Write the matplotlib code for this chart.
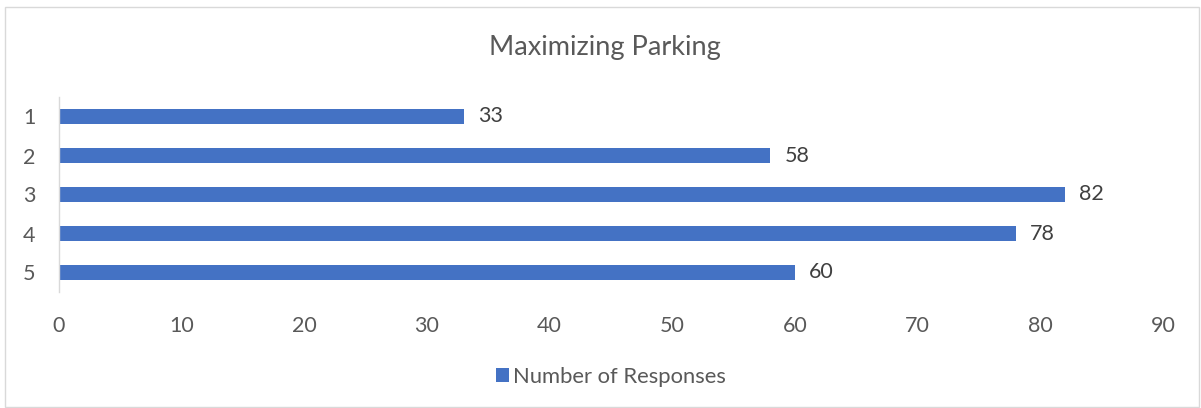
import matplotlib
matplotlib.use("Agg")
import matplotlib.pyplot as plt
from matplotlib.patches import Rectangle

categories = ["1", "2", "3", "4", "5"]
values = [33, 58, 82, 78, 60]
xticks = [0, 10, 20, 30, 40, 50, 60, 70, 80, 90]
title = "Maximizing Parking"
series_name = "Number of Responses"

plt.rcParams['font.family'] = ['Lato', 'DejaVu Sans']
bar_color = "#4472C4"
text_color = "#595959"

fig = plt.figure(figsize=(12.01, 4.08), dpi=100)
ax = fig.add_axes([59/1201, 1-292/408, (1163-59)/1201, (292-97)/408])

ypos = list(range(len(categories)))
bars = ax.barh(ypos, values, height=0.36, color=bar_color, label=series_name)
ax.set_ylim(len(categories)-0.5, -0.5)
ax.set_xlim(0, 90)
ax.set_yticks(ypos)
ax.set_yticklabels(categories)
ax.set_xticks(xticks)
ax.set_xticklabels([str(t) for t in xticks])
ax.tick_params(axis='both', length=0, labelsize=15.5, colors=text_color)
ax.tick_params(axis='y', pad=17)
ax.tick_params(axis='x', pad=17)
for s in ['top', 'right', 'bottom']:
    ax.spines[s].set_visible(False)
ax.spines['left'].set_color('#D9D9D9')
ax.spines['left'].set_linewidth(1)

for b, v in zip(bars, values):
    ax.annotate(str(v), (v, b.get_y() + b.get_height()/2), xytext=(10, 0),
                textcoords='offset points', va='center', ha='left',
                fontsize=15.5, color='#404040')

fig.text(605/1201, 1-47/408, title, ha='center', va='center', fontsize=19.5, color=text_color)

leg = fig.legend(handles=[bars], labels=[series_name], loc='center',
                 bbox_to_anchor=(611/1201, 1-377/408), frameon=False,
                 fontsize=15.8, handlelength=0.6, handleheight=0.6, handletextpad=0.2)
for t in leg.get_texts():
    t.set_color(text_color)

fig.patches.append(Rectangle((5/1201, 1/408), 1194/1201, 1-8/408, transform=fig.transFigure,
                             fill=False, edgecolor='#D9D9D9', linewidth=1))

fig.savefig("out.png", dpi=100)
